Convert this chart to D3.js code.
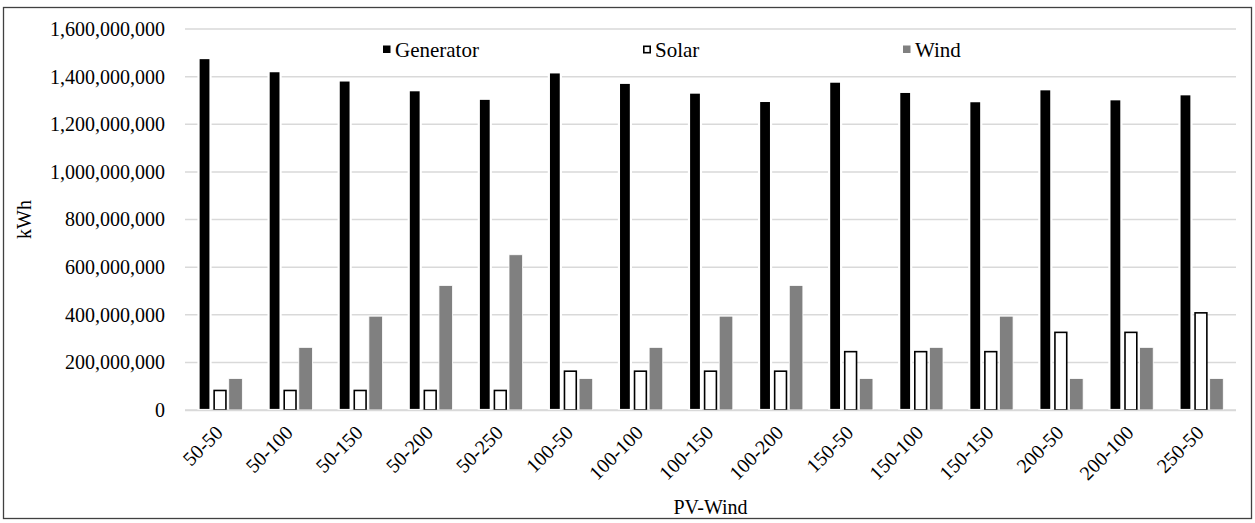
<!DOCTYPE html>
<html>
<head>
<meta charset="utf-8">
<script src="https://cdn.jsdelivr.net/npm/d3@7/dist/d3.min.js"></script>
<style>
  html, body { margin: 0; padding: 0; background: #fff; }
  svg { display: block; }
  svg text { font-family: "Liberation Serif", Tinos, "Times New Roman", Times, "DejaVu Serif", "Noto Serif", serif !important; fill: #000; }
</style>
</head>
<body>
<svg id="chart" width="1255" height="523"></svg>
<script>
// PV-Wind capacity combinations
const categories = ["50-50", "50-100", "50-150", "50-200", "50-250",
  "100-50", "100-100", "100-150", "100-200",
  "150-50", "150-100", "150-150",
  "200-50", "200-100", "250-50"];

// Annual energy per source, kWh
const generator = [1478e6, 1423e6, 1384e6, 1343e6, 1307e6,
  1418e6, 1374e6, 1333e6, 1298e6,
  1379e6, 1336e6, 1297e6,
  1347e6, 1305e6, 1326e6];
const solar = [82e6, 82e6, 82e6, 82e6, 82e6,
  163e6, 163e6, 163e6, 163e6,
  245e6, 245e6, 245e6,
  326e6, 326e6, 408e6];
const wind = [132e6, 263e6, 394e6, 523e6, 652e6,
  132e6, 263e6, 394e6, 523e6,
  132e6, 263e6, 394e6,
  132e6, 263e6, 132e6];

const seriesNames = ["Generator", "Solar", "Wind"];
const yTicks = [0, 2e8, 4e8, 6e8, 8e8, 10e8, 12e8, 14e8, 16e8];

const seriesData = [generator, solar, wind];
const style = {
  Generator: { fill: "#000000", stroke: "#ffffff", sw: 2.2, w: 12 },
  Solar:     { fill: "#ffffff", stroke: "#000000", sw: 1.6, w: 11.8 },
  Wind:      { fill: "#808080", stroke: "#ffffff", sw: 0.8, w: 13.6 }
};

const svg = d3.select("#chart");
const plot = { left: 185, right: 1236, top: 29, bottom: 410 };
const serif = "'Liberation Serif', Tinos, 'Times New Roman', Times, 'DejaVu Serif', serif";

// outer frame
svg.append("rect")
  .attr("x", 3.5).attr("y", 7.5)
  .attr("width", 1248).attr("height", 511)
  .attr("fill", "#fff").attr("stroke", "#404040").attr("stroke-width", 1.3);

const x0 = d3.scaleBand()
  .domain(categories)
  .range([plot.left, plot.right])
  .paddingInner(0.336)
  .paddingOuter(0.168);

const x1 = d3.scaleBand()
  .domain(seriesNames)
  .range([0, x0.bandwidth()]);

const y = d3.scaleLinear()
  .domain([0, 16e8])
  .range([plot.bottom, plot.top]);

// horizontal gridlines
svg.append("g")
  .selectAll("line")
  .data(yTicks)
  .join("line")
  .attr("x1", plot.left).attr("x2", plot.right)
  .attr("y1", d => y(d)).attr("y2", d => y(d))
  .attr("stroke", "#d9d9d9").attr("stroke-width", 1.5);

// y axis labels
const yAxis = d3.axisLeft(y)
  .tickValues(yTicks)
  .tickFormat(d3.format(","))
  .tickSize(0)
  .tickPadding(20);
const gy = svg.append("g")
  .attr("transform", `translate(${plot.left},0)`)
  .call(yAxis)
  .attr("font-family", serif)
  .attr("font-size", 20);
gy.select(".domain").remove();
gy.selectAll("text").attr("fill", "#000");

// bars
const groups = svg.append("g")
  .selectAll("g")
  .data(categories)
  .join("g")
  .attr("transform", d => `translate(${x0(d)},0)`);

groups.selectAll("rect")
  .data((c, i) => seriesNames.map((s, k) => ({ s, v: seriesData[k][i] })))
  .join("rect")
  .attr("x", d => x1(d.s) + (x1.bandwidth() - style[d.s].w) / 2)
  .attr("width", d => style[d.s].w)
  .attr("y", d => y(d.v))
  .attr("height", d => y(0) - y(d.v))
  .attr("fill", d => style[d.s].fill)
  .attr("stroke", d => style[d.s].stroke)
  .attr("stroke-width", d => style[d.s].sw);

// category axis line
svg.append("line")
  .attr("x1", plot.left).attr("x2", plot.right)
  .attr("y1", y(0) + 0.5).attr("y2", y(0) + 0.5)
  .attr("stroke", "#d9d9d9").attr("stroke-width", 1.5);

// x axis labels
const xAxis = d3.axisBottom(x0).tickSize(0).tickPadding(0);
const gx = svg.append("g")
  .attr("transform", `translate(0,${plot.bottom})`)
  .call(xAxis)
  .attr("font-family", serif)
  .attr("font-size", 20);
gx.select(".domain").remove();
gx.selectAll("text")
  .attr("fill", "#000")
  .attr("text-anchor", "end")
  .attr("dy", null)
  .attr("y", 0)
  .attr("transform", "translate(4,24) rotate(-45)");

// axis titles
svg.append("text")
  .attr("x", (plot.left + plot.right) / 2)
  .attr("y", 514)
  .attr("text-anchor", "middle")
  .attr("font-family", serif)
  .attr("font-size", 20)
  .text("PV-Wind");

svg.append("text")
  .attr("transform", `translate(31,${(plot.top + plot.bottom) / 2}) rotate(-90)`)
  .attr("text-anchor", "middle")
  .attr("font-family", serif)
  .attr("font-size", 20)
  .text("kWh");

// legend
const legendX = d3.scalePoint().domain(seriesNames).range([383, 903]);
const lg = svg.append("g")
  .selectAll("g")
  .data(seriesNames)
  .join("g")
  .attr("transform", d => `translate(${legendX(d)},0)`);
lg.append("rect")
  .attr("x", d => d === "Solar" ? 0.8 : 0)
  .attr("y", d => d === "Solar" ? 46.3 : 45.5)
  .attr("width", d => d === "Solar" ? 6.4 : 7.5)
  .attr("height", d => d === "Solar" ? 6.4 : 7.5)
  .attr("fill", d => style[d].fill)
  .attr("stroke", d => d === "Solar" ? "#000" : "none")
  .attr("stroke-width", 1.6);
lg.append("text")
  .attr("x", 12)
  .attr("y", 57)
  .attr("font-family", serif)
  .attr("font-size", 21)
  .text(d => d);
</script>
</body>
</html>
